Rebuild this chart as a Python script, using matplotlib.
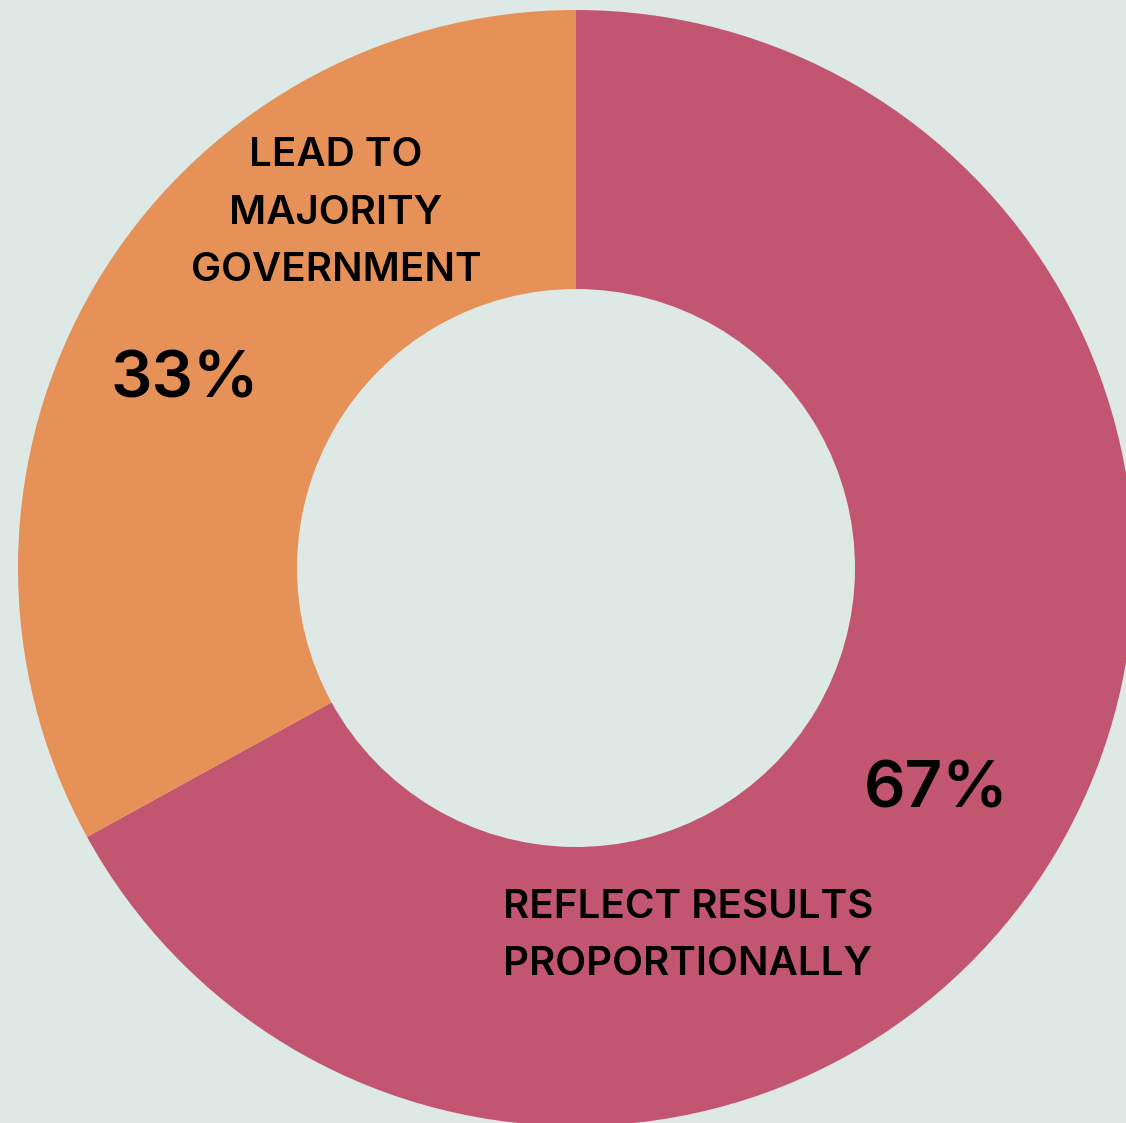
import matplotlib
matplotlib.use("Agg")
import matplotlib.pyplot as plt

categories = ["REFLECT RESULTS\nPROPORTIONALLY", "LEAD TO\nMAJORITY\nGOVERNMENT"]
values = [67, 33]
pct_labels = ["67%", "33%"]
colors = ["#C25671", "#E59158"]
bg = "#DEE8E4"

W, H = 1126, 1123
fig = plt.figure(figsize=(W / 100, H / 100), dpi=100, facecolor=bg)
ax = fig.add_axes([0, 0, 1, 1])
ax.set_facecolor(bg)

cx, cy, R = 576, H - 568, 558
ax.pie(values, colors=colors, startangle=90, counterclock=False,
       center=(cx, cy), radius=R, wedgeprops=dict(width=R - 279, linewidth=0),
       frame=True)
ax.set_xlim(0, W)
ax.set_ylim(0, H)
ax.axis("off")

font = "Inter"
ax.text(688, H - 936, categories[0], ha="center", va="center", fontsize=29,
        fontweight="semibold", family=font, linespacing=1.72, color="black")
ax.text(336, H - 213, categories[1], ha="center", va="center", fontsize=29,
        fontweight="semibold", family=font, linespacing=1.72, color="black")
ax.text(936, H - 790, pct_labels[0], ha="center", va="center", fontsize=47,
        fontweight="semibold", family=font, color="black")
ax.text(185, H - 381, pct_labels[1], ha="center", va="center", fontsize=47,
        fontweight="semibold", family=font, color="black")

fig.savefig("out.png", dpi=100, facecolor=bg)
